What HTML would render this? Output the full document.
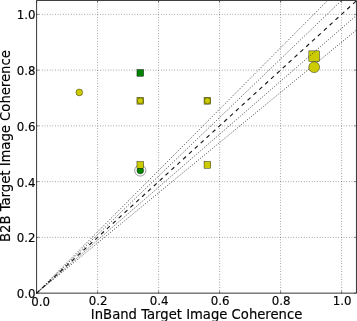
<!DOCTYPE html>
<html><head><meta charset="utf-8"><title>Coherence plot</title>
<style>html,body{margin:0;padding:0;background:#fff;overflow:hidden}svg{display:block}text{font-family:"DejaVu Sans","Liberation Sans",sans-serif;fill:#000;stroke:#000;stroke-width:0.15px}</style></head><body>
<svg width="357" height="321" viewBox="0 0 357 321">
<rect x="0" y="0" width="357" height="321" fill="#fff"/>
<g stroke="#000" stroke-width="0.5" stroke-dasharray="0.7 1.947" fill="none">
<line x1="97.60" y1="293.15" x2="97.60" y2="0.41"/>
<line x1="36.60" y1="237.39" x2="356.85" y2="237.39"/>
<line x1="158.60" y1="293.15" x2="158.60" y2="0.41"/>
<line x1="36.60" y1="181.63" x2="356.85" y2="181.63"/>
<line x1="219.60" y1="293.15" x2="219.60" y2="0.41"/>
<line x1="36.60" y1="125.87" x2="356.85" y2="125.87"/>
<line x1="280.60" y1="293.15" x2="280.60" y2="0.41"/>
<line x1="36.60" y1="70.11" x2="356.85" y2="70.11"/>
<line x1="341.60" y1="293.15" x2="341.60" y2="0.41"/>
<line x1="36.60" y1="14.35" x2="356.85" y2="14.35"/>
</g>
<rect x="308.85" y="50.87" width="10.6" height="10.6" fill="#cbcb00" stroke="#000" stroke-width="0.4"/>
<g stroke="#222" stroke-width="1.0" stroke-dasharray="0.85 1.797" fill="none">
<line x1="36.60" y1="293.15" x2="327.74" y2="0.41"/>
<line x1="36.60" y1="293.15" x2="341.60" y2="0.41"/>
<line x1="36.60" y1="293.15" x2="356.85" y2="15.05"/>
<line x1="36.60" y1="293.15" x2="356.85" y2="29.68"/>
</g>
<g stroke="#1a1a1a" stroke-width="1.15" stroke-dasharray="3.97 3.97" fill="none">
<line x1="36.60" y1="293.15" x2="356.85" y2="0.41"/>
</g>
<circle cx="79.30" cy="92.41" r="3.35" fill="#cbcb00" stroke="#000" stroke-width="0.4"/>
<rect x="136.95" y="69.55" width="6.7" height="6.7" fill="#008400" stroke="#000" stroke-width="0.4"/>
<rect x="136.95" y="97.43" width="6.7" height="6.7" fill="#cbcb00" stroke="#000" stroke-width="0.4"/>
<circle cx="140.30" cy="100.78" r="3.0500000000000003" fill="#cbcb00" stroke="#000" stroke-width="0.4"/>
<rect x="204.05" y="97.43" width="6.7" height="6.7" fill="#cbcb00" stroke="#000" stroke-width="0.4"/>
<circle cx="207.40" cy="100.78" r="3.0500000000000003" fill="#cbcb00" stroke="#000" stroke-width="0.4"/>
<circle cx="140.30" cy="170.48" r="5.6" fill="#fff" stroke="#000" stroke-width="0.4"/>
<circle cx="140.30" cy="170.48" r="3.35" fill="#008400" stroke="#000" stroke-width="0.4"/>
<rect x="136.95" y="161.55" width="6.7" height="6.7" fill="#cbcb00" stroke="#000" stroke-width="0.4"/>
<rect x="204.05" y="161.55" width="6.7" height="6.7" fill="#cbcb00" stroke="#000" stroke-width="0.4"/>
<circle cx="314.15" cy="67.17" r="5.45" fill="#cbcb00" stroke="#000" stroke-width="0.4"/>
<g stroke="#000" stroke-width="0.4" fill="none">
<line x1="36.60" y1="293.15" x2="36.60" y2="290.55"/>
<line x1="36.60" y1="0.41" x2="36.60" y2="3.01"/>
<line x1="36.60" y1="293.15" x2="39.20" y2="293.15"/>
<line x1="356.85" y1="293.15" x2="354.25" y2="293.15"/>
<line x1="97.60" y1="293.15" x2="97.60" y2="290.55"/>
<line x1="97.60" y1="0.41" x2="97.60" y2="3.01"/>
<line x1="36.60" y1="237.39" x2="39.20" y2="237.39"/>
<line x1="356.85" y1="237.39" x2="354.25" y2="237.39"/>
<line x1="158.60" y1="293.15" x2="158.60" y2="290.55"/>
<line x1="158.60" y1="0.41" x2="158.60" y2="3.01"/>
<line x1="36.60" y1="181.63" x2="39.20" y2="181.63"/>
<line x1="356.85" y1="181.63" x2="354.25" y2="181.63"/>
<line x1="219.60" y1="293.15" x2="219.60" y2="290.55"/>
<line x1="219.60" y1="0.41" x2="219.60" y2="3.01"/>
<line x1="36.60" y1="125.87" x2="39.20" y2="125.87"/>
<line x1="356.85" y1="125.87" x2="354.25" y2="125.87"/>
<line x1="280.60" y1="293.15" x2="280.60" y2="290.55"/>
<line x1="280.60" y1="0.41" x2="280.60" y2="3.01"/>
<line x1="36.60" y1="70.11" x2="39.20" y2="70.11"/>
<line x1="356.85" y1="70.11" x2="354.25" y2="70.11"/>
<line x1="341.60" y1="293.15" x2="341.60" y2="290.55"/>
<line x1="341.60" y1="0.41" x2="341.60" y2="3.01"/>
<line x1="36.60" y1="14.35" x2="39.20" y2="14.35"/>
<line x1="356.85" y1="14.35" x2="354.25" y2="14.35"/>
</g>
<path d="M36.60 293.15H356.45V0.45H36.60Z" fill="none" stroke="#000" stroke-width="0.8"/>
<g font-size="11.8">
<text x="40.6" y="306.1" text-anchor="middle">0.0</text>
<text x="35.6" y="298.06" text-anchor="end">0.0</text>
<text x="98.20" y="304.6" text-anchor="middle">0.2</text>
<text x="35.6" y="242.30" text-anchor="end">0.2</text>
<text x="159.20" y="304.6" text-anchor="middle">0.4</text>
<text x="35.6" y="186.54" text-anchor="end">0.4</text>
<text x="220.20" y="304.6" text-anchor="middle">0.6</text>
<text x="35.6" y="130.78" text-anchor="end">0.6</text>
<text x="281.20" y="304.6" text-anchor="middle">0.8</text>
<text x="35.6" y="75.02" text-anchor="end">0.8</text>
<text x="342.20" y="304.6" text-anchor="middle">1.0</text>
<text x="35.6" y="19.26" text-anchor="end">1.0</text>
</g>
<text x="196.6" y="318.5" font-size="13.2" text-anchor="middle">InBand Target Image Coherence</text>
<text transform="translate(10.25 146.1) rotate(-90)" font-size="13.2" text-anchor="middle">B2B Target Image Coherence</text>
</svg></body></html>
